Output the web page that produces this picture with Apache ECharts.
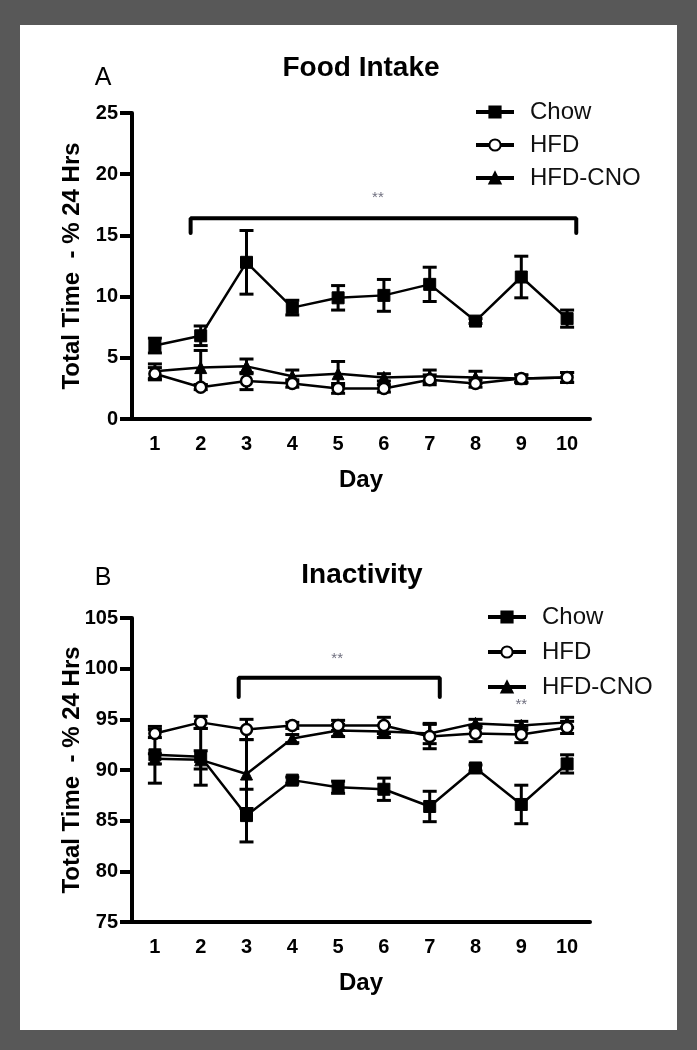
<!DOCTYPE html>
<html><head><meta charset="utf-8">
<script src="https://cdn.jsdelivr.net/npm/echarts@6/dist/echarts.min.js"></script>
<style>html,body{margin:0;padding:0;background:#fff}#c{width:697px;height:1050px}</style>
</head><body><div id="c"></div>
<script>
// ---------- data ----------
const days = ['1','2','3','4','5','6','7','8','9','10'];
const seriesNames = ['Chow','HFD','HFD-CNO'];

// Panel A: Food Intake (Total Time - % 24 Hrs)
const foodChow     = [6.0, 6.8, 12.8, 9.1, 9.9, 10.1, 11.0, 8.0, 11.6, 8.2];
const foodChowErr  = [0.6, 0.8, 2.6, 0.6, 1.0, 1.3, 1.4, 0.2, 1.7, 0.7];
const foodHFD      = [3.7, 2.6, 3.1, 2.9, 2.5, 2.5, 3.2, 2.9, 3.3, 3.4];
const foodHFDErr   = [0.5, 0.2, 0.7, 0.3, 0.4, 0.3, 0.4, 0.3, 0.3, 0.4];
const foodCNO      = [3.9, 4.2, 4.3, 3.5, 3.7, 3.4, 3.5, 3.4, 3.3, 3.4];
const foodCNOErr   = [0.6, 1.4, 0.6, 0.5, 1.0, 0.3, 0.5, 0.5, 0.3, 0.4];
const foodTicks    = [0, 5, 10, 15, 20, 25];

// Panel B: Inactivity (Total Time - % 24 Hrs)
const inactChow    = [91.5, 91.3, 85.5, 89.0, 88.3, 88.1, 86.4, 90.2, 86.6, 90.6];
const inactChowErr = [2.8, 2.8, 2.6, 0.3, 0.6, 1.1, 1.5, 0.3, 1.9, 0.9];
const inactHFD     = [93.6, 94.7, 94.0, 94.4, 94.4, 94.4, 93.3, 93.6, 93.5, 94.2];
const inactHFDErr  = [0.4, 0.6, 1.0, 0.3, 0.5, 0.8, 1.2, 0.8, 0.8, 0.6];
const inactCNO     = [91.1, 91.0, 89.6, 93.1, 93.9, 93.8, 93.6, 94.6, 94.4, 94.7];
const inactCNOErr  = [0.5, 0.9, 3.4, 0.4, 0.6, 0.6, 1.0, 0.4, 0.4, 0.5];
const inactTicks   = [75, 80, 85, 90, 95, 100, 105];

// significance annotations (day, value)
const bracketA = [[1.78, 15.2], [1.78, 16.4], [10.2, 16.4], [10.2, 15.2]];
const starsA   = [[5.87, 18.1]];
const bracketB = [[2.83, 97.2], [2.83, 99.1], [7.22, 99.1], [7.22, 97.2]];
const starsB   = [[4.98, 101.0], [9.0, 96.4]];

// ---------- chart ----------
const FONT = "'Liberation Sans', Arial, sans-serif";
const chart = echarts.init(document.getElementById('c'), null, {renderer: 'canvas'});

function errData(mean, err) {
  return mean.map((m, i) => [i, m - err[i], m + err[i]]);
}
function errItem(params, api) {
  const x = api.value(0), lo = api.value(1), hi = api.value(2);
  const p1 = api.coord([x, hi]), p2 = api.coord([x, lo]);
  const w = 7;
  const st = {stroke: '#000', lineWidth: 3};
  return {type: 'group', children: [
    {type: 'line', shape: {x1: p1[0], y1: p1[1], x2: p2[0], y2: p2[1]}, style: st},
    {type: 'line', shape: {x1: p1[0] - w, y1: p1[1], x2: p1[0] + w, y2: p1[1]}, style: st},
    {type: 'line', shape: {x1: p2[0] - w, y1: p2[1], x2: p2[0] + w, y2: p2[1]}, style: st}
  ]};
}

const grids = [
  {left: 132, top: 113, width: 458, height: 306},
  {left: 132, top: 618, width: 458, height: 304}
];

function catAxis(gi) {
  return {
    type: 'category', gridIndex: gi, data: days, boundaryGap: true,
    name: 'Day', nameLocation: 'middle', nameGap: 49, nameMoveOverlap: false,
    nameTextStyle: {fontFamily: FONT, fontSize: 24, fontWeight: 'bold', color: '#000'},
    axisLine: {lineStyle: {color: '#000', width: 4}},
    axisTick: {alignWithLabel: true, length: 12, lineStyle: {color: '#000', width: 4}},
    axisLabel: {fontFamily: FONT, fontSize: 20, fontWeight: 'bold', color: '#000', margin: 15},
    splitLine: {show: false}
  };
}
function hiddenX(gi) {
  return {type: 'value', gridIndex: gi, min: 0.5, max: 10.5, show: false};
}
function valAxis(gi, ticks) {
  return {
    type: 'value', gridIndex: gi, min: ticks[0], max: ticks[ticks.length - 1],
    interval: ticks[1] - ticks[0],
    name: 'Total Time  - % 24 Hrs', nameLocation: 'middle', nameGap: 48, nameMoveOverlap: false,
    nameTextStyle: {fontFamily: FONT, fontSize: 24, fontWeight: 'bold', color: '#000'},
    axisLine: {show: true, lineStyle: {color: '#000', width: 4}},
    axisTick: {show: true, length: 12, lineStyle: {color: '#000', width: 4}},
    axisLabel: {fontFamily: FONT, fontSize: 20, fontWeight: 'bold', color: '#000', margin: 14},
    splitLine: {show: false}
  };
}

const symbolStyles = {
  'Chow':    {symbol: 'rect', symbolSize: 12, itemStyle: {color: '#000', borderColor: '#000', borderWidth: 1}},
  'HFD':     {symbol: 'circle', symbolSize: 11, itemStyle: {color: '#fff', borderColor: '#000', borderWidth: 2.5}},
  'HFD-CNO': {symbol: 'triangle', symbolSize: 12, itemStyle: {color: '#000', borderColor: '#000', borderWidth: 1}}
};

function panelSeries(gi, means, errs, bracket, stars) {
  const out = [];
  seriesNames.forEach((n, k) => {
    out.push({type: 'custom', xAxisIndex: gi * 2, yAxisIndex: gi, renderItem: errItem,
              data: errData(means[k], errs[k]), z: 2, silent: true});
  });
  [2, 1, 0].forEach(k => {
    const n = seriesNames[k];
    out.push(Object.assign({
      type: 'line', name: n, xAxisIndex: gi * 2, yAxisIndex: gi, data: means[k],
      lineStyle: {color: '#000', width: 2.5}, showAllSymbol: true, z: 3 + (2 - k)
    }, symbolStyles[n]));
  });
  out.push({type: 'line', xAxisIndex: gi * 2 + 1, yAxisIndex: gi, data: bracket,
            symbol: 'none', lineStyle: {color: '#000', width: 4, cap: 'round'}, z: 3});
  out.push({type: 'scatter', xAxisIndex: gi * 2 + 1, yAxisIndex: gi, data: stars,
            symbolSize: 0, z: 6,
            label: {show: true, formatter: '**', position: 'inside',
                    fontFamily: FONT, fontSize: 15, color: '#4a4a5e'}});
  return out;
}

function legendAt(left, top, gap) {
  return {
    left: left, top: top, orient: 'vertical', itemWidth: 38, itemHeight: 14, itemGap: gap,
    data: seriesNames.map(n => ({name: n})),
    lineStyle: {width: 4},
    textStyle: {fontFamily: FONT, fontSize: 24, color: '#111', padding: [0, 0, 0, 11]},
    selectedMode: false
  };
}

const option = {
  backgroundColor: '#585858',
  animation: false,
  graphic: [
    {type: 'rect', shape: {x: 20, y: 25, width: 657, height: 1005}, style: {fill: '#fff'}, z: -10},
    {type: 'text', x: 361, y: 68, style: {text: 'Food Intake', fontFamily: FONT, fontSize: 28, fontWeight: 'bold', fill: '#000', textAlign: 'center', textVerticalAlign: 'middle'}},
    {type: 'text', x: 103, y: 78, style: {text: 'A', fontFamily: FONT, fontSize: 25, fill: '#000', textAlign: 'center', textVerticalAlign: 'middle'}},
    {type: 'text', x: 362, y: 575, style: {text: 'Inactivity', fontFamily: FONT, fontSize: 28, fontWeight: 'bold', fill: '#000', textAlign: 'center', textVerticalAlign: 'middle'}},
    {type: 'text', x: 103, y: 578, style: {text: 'B', fontFamily: FONT, fontSize: 25, fill: '#000', textAlign: 'center', textVerticalAlign: 'middle'}}
  ],
  legend: [legendAt(469, 95, 9), legendAt(481, 600, 11)],
  grid: grids,
  xAxis: [catAxis(0), hiddenX(0), catAxis(1), hiddenX(1)],
  yAxis: [valAxis(0, foodTicks), valAxis(1, inactTicks)],
  series: [].concat(
    panelSeries(0, [foodChow, foodHFD, foodCNO], [foodChowErr, foodHFDErr, foodCNOErr], bracketA, starsA),
    panelSeries(1, [inactChow, inactHFD, inactCNO], [inactChowErr, inactHFDErr, inactCNOErr], bracketB, starsB)
  )
};
chart.setOption(option);
</script></body></html>
